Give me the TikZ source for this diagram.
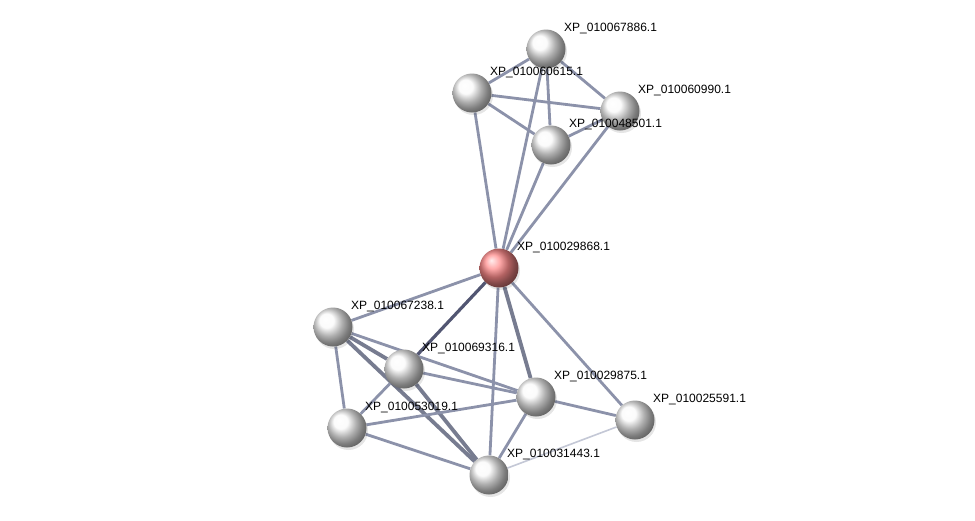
\documentclass[tikz,border=0pt]{standalone}
\usepackage{fontspec}
\setmainfont{Liberation Sans}
\usetikzlibrary{calc}
\pgfdeclarelayer{background}
\pgfdeclarelayer{paper}
\pgfsetlayers{paper,background,main}
\definecolor{edgec}{RGB}{140,146,170}
\definecolor{edgedark}{RGB}{82,86,114}
\definecolor{edgelight}{RGB}{196,200,214}
\tikzset{
  prot/.style={circle, minimum size=39pt, inner sep=0pt, shading=ball, ball color=gray!4},
  hub/.style={circle, minimum size=39pt, inner sep=0pt, shading=ball, ball color=red!45!white},
  lbl/.style={anchor=west, inner sep=0pt, font=\fontsize{12pt}{14pt}\selectfont, text=black},
  edge/.style={draw=edgec, line width=2.8pt},
  thick edge/.style={draw=edgec!85!black, line width=3.8pt},
  dark edge/.style={draw=edgedark, line width=3.2pt},
  light edge/.style={draw=edgelight, line width=1.6pt},
  shadowc/.style={fill=black, opacity=0.10}
}
\begin{document}
\begin{tikzpicture}[x=1pt,y=-1pt]
\useasboundingbox (0,0) rectangle (975,520);
\begin{pgfonlayer}{paper}
\fill[white] (0,0) rectangle (975,520);
\end{pgfonlayer}
% shadows
\foreach \x/\y in {546/49,472/93,620/111,551/145,499/268,333/327,404/369,536/397,635/420,347/428,489/475}
  \fill[shadowc] (\x+1.5,\y+2.5) circle (19.5pt);
\node[prot] (A) at (546,49) {};
\node[prot] (B) at (472,93) {};
\node[prot] (C) at (620,111) {};
\node[prot] (D) at (551,145) {};
\node[hub]  (E) at (499,268) {};
\node[prot] (F) at (333,327) {};
\node[prot] (G) at (404,369) {};
\node[prot] (H) at (536,397) {};
\node[prot] (I) at (635,420) {};
\node[prot] (J) at (347,428) {};
\node[prot] (K) at (489,475) {};
\begin{pgfonlayer}{background}
\draw[edge] (A) -- (B);
\draw[edge] (A) -- (C);
\draw[edge] (A) -- (D);
\draw[edge] (A) -- (E);
\draw[edge] (B) -- (C);
\draw[edge] (B) -- (D);
\draw[edge] (B) -- (E);
\draw[edge] (D) -- (C);
\draw[edge] (D) -- (E);
\draw[edge] (C) -- (E);
\draw[edge] (E) -- (F);
\draw[dark edge] (E) -- (G);
\draw[edge] (E) -- (K);
\draw[thick edge] (E) -- (H);
\draw[edge] (E) -- (I);
\draw[thick edge] (F) -- (G);
\draw[edge] (F) -- (H);
\draw[thick edge] (F) -- (K);
\draw[edge] (F) -- (J);
\draw[edge] (G) -- (H);
\draw[thick edge] (G) -- (K);
\draw[edge] (G) -- (J);
\draw[edge] (J) -- (H);
\draw[edge] (J) -- (K);
\draw[edge] (H) -- (K);
\draw[edge] (H) -- (I);
\draw[light edge] (K) -- (I);
\end{pgfonlayer}
% labels
\node[lbl] (Al) at ($(A)+(18,-21)$) {XP\_010067886.1};
\node[lbl] (Bl) at ($(B)+(18,-21)$) {XP\_010060615.1};
\node[lbl] (Cl) at ($(C)+(18,-21)$) {XP\_010060990.1};
\node[lbl] (Dl) at ($(D)+(18,-21)$) {XP\_010048501.1};
\node[lbl] (El) at ($(E)+(18,-21)$) {XP\_010029868.1};
\node[lbl] (Fl) at ($(F)+(18,-21)$) {XP\_010067238.1};
\node[lbl] (Gl) at ($(G)+(18,-21)$) {XP\_010069316.1};
\node[lbl] (Hl) at ($(H)+(18,-21)$) {XP\_010029875.1};
\node[lbl] (Il) at ($(I)+(18,-21)$) {XP\_010025591.1};
\node[lbl] (Jl) at ($(J)+(18,-21)$) {XP\_010053019.1};
\node[lbl] (Kl) at ($(K)+(18,-21)$) {XP\_010031443.1};
\end{tikzpicture}
\end{document}
